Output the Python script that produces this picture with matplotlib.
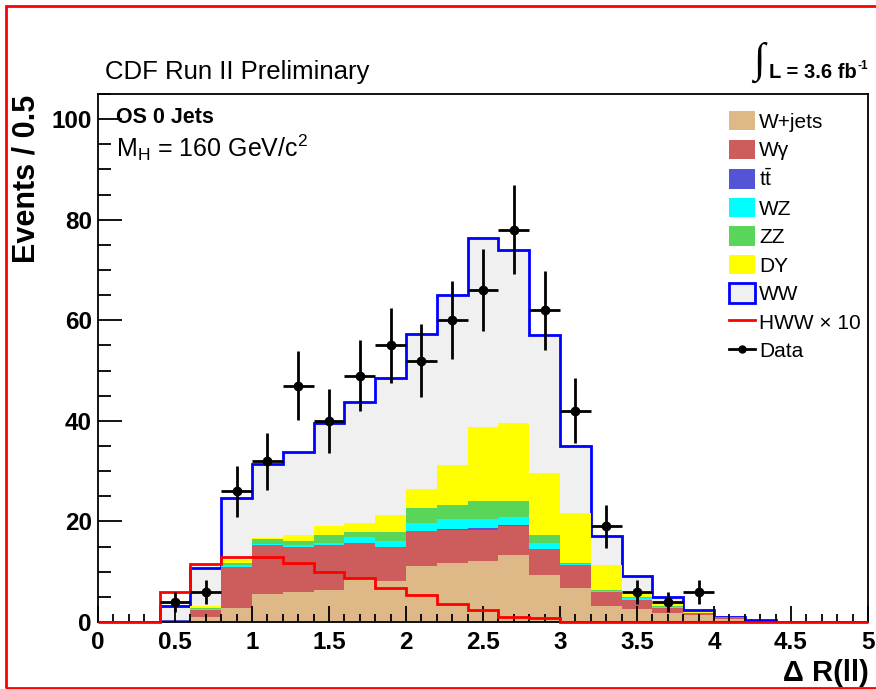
import numpy as np
import matplotlib
matplotlib.use("Agg")
import matplotlib.pyplot as plt
from matplotlib.patches import Patch, Rectangle
from matplotlib.lines import Line2D
from matplotlib.ticker import MultipleLocator, FuncFormatter

FONT = ['Liberation Sans', 'DejaVu Sans']
plt.rcParams['font.family'] = FONT
plt.rcParams['mathtext.fontset'] = 'custom'
plt.rcParams['mathtext.rm'] = 'Liberation Sans'
plt.rcParams['mathtext.it'] = 'Liberation Sans'

# ---- data: Delta R(ll) histogram, 0.2 wide bins from 0 to 5 ----
bin_lo, bin_hi, bin_width = 0.0, 5.0, 0.2
edges = np.round(np.arange(bin_lo, bin_hi + bin_width / 2, bin_width), 2)

wjets  = [0, 0, 0.1, 1.0, 2.8, 5.5, 5.9, 6.3, 8.7, 8.2, 11.2, 11.7, 12.1, 13.3, 9.3, 6.7, 3.2, 2.5, 1.7, 1.4, 0.5, 0, 0, 0, 0]
wgamma = [0, 0, 0.1, 1.3, 8.2, 9.8, 9.1, 9.0, 7.0, 6.8, 6.8, 6.6, 6.2, 5.7, 5.3, 4.6, 2.7, 1.9, 1.0, 0.3, 0.4, 0, 0, 0, 0]
ttbar  = [0, 0, 0.2, 0.0, 0.0, 0.0, 0.0, 0.0, 0.0, 0.0, 0.1, 0.1, 0.3, 0.3, 0.0, 0.0, 0.0, 0.0, 0.0, 0.0, 0.0, 0, 0, 0, 0]
wz     = [0, 0, 0.0, 0.2, 0.4, 0.3, 0.3, 0.5, 1.2, 1.1, 1.6, 2.0, 1.9, 1.6, 1.2, 0.3, 0.3, 0.3, 0.3, 0.1, 0.0, 0, 0, 0, 0]
zz     = [0, 0, 0.0, 0.3, 0.3, 1.0, 0.9, 1.5, 1.0, 1.8, 2.9, 2.9, 3.6, 3.2, 1.5, 0.2, 0.2, 0.3, 0.2, 0.0, 0.0, 0, 0, 0, 0]
dy     = [0, 0, 0.0, 0.4, 0.6, 0.2, 1.1, 1.7, 1.7, 3.3, 3.8, 7.9, 14.7, 15.5, 12.4, 9.9, 4.9, 0.5, 0.4, 0.1, 0.0, 0, 0, 0, 0]
ww     = [0, 0, 2.7, 7.5, 12.3, 14.7, 16.6, 20.5, 24.2, 27.3, 30.9, 33.8, 37.5, 34.4, 27.3, 13.3, 5.9, 3.7, 1.4, 0.5, 0.0, 0.3, 0, 0, 0]
hww_x10 = [0, 0, 5.9, 11.6, 13.0, 13.0, 11.7, 10.0, 8.7, 6.7, 5.4, 3.5, 2.3, 1.0, 0.8, 0, 0, 0, 0, 0, 0, 0, 0, 0, 0]
data   = [0, 0, 4, 6, 26, 32, 47, 40, 49, 55, 52, 60, 66, 78, 62, 42, 19, 6, 4, 6, 0, 0, 0, 0, 0]

labels = ['W+jets', 'W\u03b3', r'$\mathrm{t\bar{t}}$', 'WZ', 'ZZ', 'DY', 'WW']
colors = ['#deb887', '#cd5c5c', '#5454d6', '#00ffff', '#59d659', '#ffff00', '#f0f0f0']
ww_edge = '#0000ff'
hww_color = '#ff0000'

# ---- figure ----
W, H = 876, 689
def fx(x):
    return x / W
def fy(y):
    return 1 - y / H

fig = plt.figure(figsize=(W / 100, H / 100), dpi=100)
ax = fig.add_axes([fx(98), fy(622), (868 - 98) / W, (622 - 94) / H])

stack = np.cumsum(np.vstack([wjets, wgamma, ttbar, wz, zz, dy, ww]), axis=0)

# stacked backgrounds, drawn from the full sum downwards
for i in reversed(range(stack.shape[0])):
    ax.stairs(stack[i], edges, fill=True, facecolor=colors[i], edgecolor='none',
              linewidth=0, zorder=1)
    if i == stack.shape[0] - 1:
        ax.stairs(stack[i], edges, color=ww_edge, linewidth=2, zorder=1)

ax.stairs(hww_x10, edges, color=hww_color, linewidth=2, zorder=3, clip_on=False)

centers = 0.5 * (edges[:-1] + edges[1:])
d = np.asarray(data, dtype=float)
m = d > 0
ax.errorbar(centers[m], d[m], yerr=np.sqrt(d[m]), xerr=bin_width / 2, fmt='o',
            color='black', ms=6, elinewidth=2, capsize=0, zorder=5)

ax.set_xlim(bin_lo, bin_hi)
ax.set_ylim(0, 105)

ax.xaxis.set_major_locator(MultipleLocator(0.5))
ax.xaxis.set_minor_locator(MultipleLocator(0.1))
ax.yaxis.set_major_locator(MultipleLocator(20))
ax.yaxis.set_minor_locator(MultipleLocator(5))
fmt = FuncFormatter(lambda v, _: f'{v:g}')
ax.xaxis.set_major_formatter(fmt)
ax.yaxis.set_major_formatter(fmt)
ax.tick_params(which='both', direction='in', top=False, right=False, width=1.3,
               labelsize=17.5)
ax.tick_params(axis='x', which='major', length=11.5, pad=6.5)
ax.tick_params(axis='x', which='minor', length=5.8)
ax.tick_params(axis='y', which='major', length=17, pad=4.5)
ax.tick_params(axis='y', which='minor', length=9)
for t in ax.get_xticklabels() + ax.get_yticklabels():
    t.set_fontweight('bold')
for s in ax.spines.values():
    s.set_linewidth(1.3)

# legend
handles = [Patch(facecolor=c, edgecolor='none') for c in colors[:-1]]
handles.append(Patch(facecolor=colors[-1], edgecolor=ww_edge, linewidth=2))
handles.append(Line2D([], [], color=hww_color, linewidth=2))
handles.append(Line2D([], [], color='black', marker='o', ms=5, linewidth=2))
leg_labels = labels + ['HWW \u00d7 10', 'Data']
ax.legend(handles, leg_labels, loc='upper left',
          bbox_to_anchor=(fx(729), fy(111)), bbox_transform=fig.transFigure,
          frameon=False, fontsize=15, handlelength=1.25, handleheight=1.06,
          handletextpad=0.2, labelspacing=0.37, borderpad=0, borderaxespad=0)

# annotations
fig.text(fx(105), fy(78.5), 'CDF Run II Preliminary', fontsize=18.5, va='baseline')
fig.text(fx(116), fy(123), 'OS 0 Jets', fontsize=15.5, fontweight='bold', va='baseline')
fig.text(fx(116), fy(157), r'M$_\mathrm{H}$ = 160 GeV/c$^\mathrm{2}$', fontsize=18,
         va='baseline')
fig.text(fx(759), fy(62), '\u222b', fontsize=30, ha='center', va='center',
         family=['Liberation Serif', 'DejaVu Serif'])
lum = fig.text(fx(769), fy(78), 'L = 3.6 fb', fontsize=14.5, fontweight='bold',
               va='baseline')
renderer = fig.canvas.get_renderer()
lum_box = lum.get_window_extent(renderer=renderer)
fig.text(lum_box.x1 / W + 1 / W, fy(69), '-1', fontsize=8.5, fontweight='bold',
         va='baseline')

fig.text(fx(26.5), fy(95), 'Events / 0.5', rotation=90, ha='center', va='top',
         fontsize=22, fontweight='bold')
fig.text(fx(869), fy(681), '\u0394 R(ll)', ha='right', va='baseline',
         fontsize=21, fontweight='bold')

# page frame
fig.add_artist(Rectangle((fx(6), fy(688)), (900 - 6) / W, (688 - 6) / H,
                         transform=fig.transFigure, fill=False,
                         edgecolor='red', linewidth=2))

fig.savefig('out.png', dpi=100)
